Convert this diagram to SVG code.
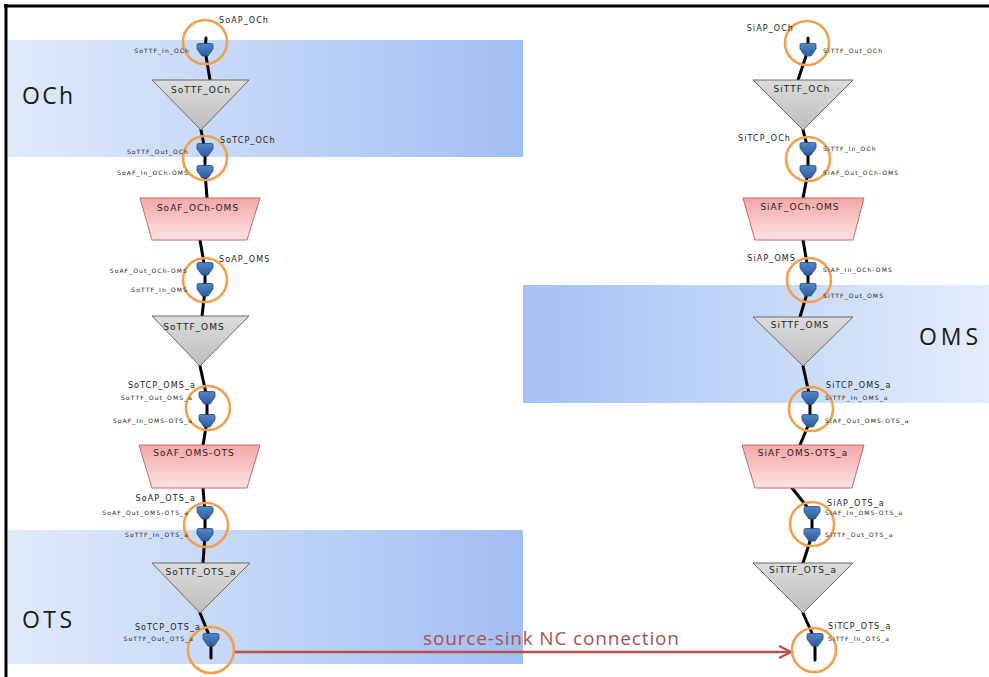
<svg xmlns="http://www.w3.org/2000/svg" xmlns:xlink="http://www.w3.org/1999/xlink" width="989" height="677" viewBox="0 0 989 677">
<defs>
<style>
.lbl{font-family:"DejaVu Sans",sans-serif;font-size:8px;letter-spacing:1.1px;fill:#222}
.tiny{font-family:"DejaVu Sans",sans-serif;font-size:6px;letter-spacing:1.1px;fill:#222}
.fn{font-family:"DejaVu Sans",sans-serif;font-size:9px;letter-spacing:1px;fill:#222;text-anchor:middle}
.big{font-family:"Open Sans","DejaVu Sans",sans-serif;font-size:23px;fill:#1a1a1a}
.end{text-anchor:end}
.ap{fill:none;stroke:#f0a04e;stroke-width:2.6}
.ln{fill:none;stroke:#000;stroke-width:3;stroke-linejoin:round;stroke-linecap:round}
.tri{fill:url(#gTri);stroke:#6a6a6a;stroke-width:1}
.trap{fill:url(#gTrap);stroke:#c46a6a;stroke-width:1}
</style>
<linearGradient id="gBandR" x1="0" y1="0" x2="1" y2="0">
<stop offset="0" stop-color="#e0eafb"/><stop offset="1" stop-color="#a2bff2"/>
</linearGradient>
<linearGradient id="gBandL" x1="0" y1="0" x2="1" y2="0">
<stop offset="0" stop-color="#a4c1f3"/><stop offset="1" stop-color="#e4edfc"/>
</linearGradient>
<linearGradient id="gTri" x1="0" y1="0" x2="0" y2="1">
<stop offset="0" stop-color="#dcdcdc"/><stop offset="1" stop-color="#bdbdbd"/>
</linearGradient>
<linearGradient id="gTrap" x1="0" y1="0" x2="0" y2="1">
<stop offset="0" stop-color="#f5a7a7"/><stop offset="1" stop-color="#fde3e3"/>
</linearGradient>
<linearGradient id="gPort" x1="0" y1="0" x2="0" y2="1">
<stop offset="0" stop-color="#5486c8"/><stop offset="1" stop-color="#2e5c9c"/>
</linearGradient>
<path id="port" d="M-8,-5 Q-8,-6.5 -6.5,-6.5 H6.5 Q8,-6.5 8,-5 V-1 L3,6 H-3 L-8,-1 Z" fill="url(#gPort)" stroke="#24497e" stroke-width="0.8"/>
<marker id="arr" markerUnits="userSpaceOnUse" markerWidth="16" markerHeight="16" refX="13" refY="7" orient="auto" viewBox="0 0 16 14">
<path d="M1,1 L13,7 L1,13" fill="none" stroke="#b5504f" stroke-width="2.4" stroke-linejoin="miter"/>
</marker>
</defs>

<rect width="989" height="677" fill="#fff"/>

<g id="layers">
<rect x="8" y="40" width="515" height="117" fill="url(#gBandR)"/>
<rect x="523" y="285" width="466" height="118" fill="url(#gBandL)"/>
<rect x="8" y="530" width="515" height="134" fill="url(#gBandR)"/>
<text class="big" x="22" y="104" textLength="51" lengthAdjust="spacing">OCh</text>
<text class="big" x="919" y="345" textLength="59" lengthAdjust="spacing">OMS</text>
<text class="big" x="22" y="628" textLength="50" lengthAdjust="spacing">OTS</text>
</g>

<g id="frame" stroke="#000" stroke-width="3">
<line x1="4" y1="6" x2="989" y2="6"/>
<line x1="6" y1="4" x2="6" y2="677"/>
</g>

<g id="connectors">
<polyline class="ln" points="206,38 205,50 210,80"/>
<polyline class="ln" points="201,130 205,150 205,172 207,198"/>
<polyline class="ln" points="200,240 205,269 205,290 202,316"/>
<polyline class="ln" points="200,366 207,398 207,421 203,445"/>
<polyline class="ln" points="203,488 205,513 205,535 203,563"/>
<polyline class="ln" points="200,613 211,640 211,658"/>
<polyline class="ln" points="808,38 808,50 798,80"/>
<polyline class="ln" points="803,130 808,149 808,172 803,198"/>
<polyline class="ln" points="803,240 808,269 808,290 800,317"/>
<polyline class="ln" points="803,366 810,398 810,421 800,445"/>
<polyline class="ln" points="792,488 812,513 812,535 803,563"/>
<polyline class="ln" points="803,613 815,640 815,660"/>
<line x1="234" y1="652" x2="791" y2="652" stroke="#b5504f" stroke-width="2.5" marker-end="url(#arr)"/>
<text x="423" y="645" font-family="'Open Sans','DejaVu Sans',sans-serif" font-size="19" fill="#a65250" textLength="256" lengthAdjust="spacing">source-sink NC connection</text>
</g>

<!-- Source side -->
<g id="SoAP_OCh">
<circle class="ap" cx="205" cy="42" r="22"/>
<use href="#port" x="205" y="50"/>
<text class="lbl" x="219" y="23">SoAP_OCh</text>
<text class="tiny end" x="190" y="53">SoTTF_In_OCh</text>
</g>
<g id="SoTTF_OCh">
<polygon class="tri" points="152,80 249,80 201,130"/>
<text class="fn" x="201" y="93">SoTTF_OCh</text>
</g>
<g id="SoTCP_OCh">
<circle class="ap" cx="205" cy="158" r="22"/>
<use href="#port" x="205" y="150"/>
<use href="#port" x="205" y="172"/>
<text class="lbl" x="220" y="143">SoTCP_OCh</text>
<text class="tiny end" x="189" y="154">SoTTF_Out_OCh</text>
<text class="tiny end" x="189" y="175">SoAF_In_OCh-OMS</text>
</g>
<g id="SoAF_OCh-OMS">
<polygon class="trap" points="140,198 260,198 247,240 152,240"/>
<text class="fn" x="198" y="211">SoAF_OCh-OMS</text>
</g>
<g id="SoAP_OMS">
<circle class="ap" cx="205" cy="280" r="22"/>
<use href="#port" x="205" y="269"/>
<use href="#port" x="205" y="290"/>
<text class="lbl" x="219" y="262">SoAP_OMS</text>
<text class="tiny end" x="188" y="273">SoAF_Out_OCh-OMS</text>
<text class="tiny end" x="188" y="292">SoTTF_In_OMS</text>
</g>
<g id="SoTTF_OMS">
<polygon class="tri" points="152,316 249,316 200,366"/>
<text class="fn" x="194" y="330">SoTTF_OMS</text>
</g>
<g id="SoTCP_OMS_a">
<circle class="ap" cx="208" cy="408" r="22"/>
<use href="#port" x="207" y="398"/>
<use href="#port" x="207" y="421"/>
<text class="lbl end" x="196" y="388">SoTCP_OMS_a</text>
<text class="tiny end" x="193" y="400">SoTTF_Out_OMS_a</text>
<text class="tiny end" x="193" y="423">SoAF_In_OMS-OTS_a</text>
</g>
<g id="SoAF_OMS-OTS">
<polygon class="trap" points="139,445 260,445 247,488 152,488"/>
<text class="fn" x="194" y="456">SoAF_OMS-OTS</text>
</g>
<g id="SoAP_OTS_a">
<circle class="ap" cx="206" cy="525" r="22"/>
<use href="#port" x="205" y="513"/>
<use href="#port" x="205" y="535"/>
<text class="lbl end" x="196" y="501">SoAP_OTS_a</text>
<text class="tiny end" x="189" y="515">SoAF_Out_OMS-OTS_a</text>
<text class="tiny end" x="189" y="537">SoTTF_In_OTS_a</text>
</g>
<g id="SoTTF_OTS_a">
<polygon class="tri" points="152,563 250,563 200,613"/>
<text class="fn" x="201" y="575">SoTTF_OTS_a</text>
</g>
<g id="SoTCP_OTS_a">
<circle class="ap" cx="211" cy="650" r="23"/>
<use href="#port" x="211" y="640"/>
<text class="lbl end" x="201" y="630">SoTCP_OTS_a</text>
<text class="tiny end" x="194" y="641">SoTTF_Out_OTS_a</text>
</g>

<!-- Sink side -->
<g id="SiAP_OCh">
<circle class="ap" cx="807" cy="43" r="22"/>
<use href="#port" x="808" y="50"/>
<text class="lbl end" x="794" y="31">SiAP_OCh</text>
<text class="tiny" x="823" y="53">SiTTF_Out_OCh</text>
</g>
<g id="SiTTF_OCh">
<polygon class="tri" points="753,80 853,80 803,130"/>
<text class="fn" x="802" y="92">SiTTF_OCh</text>
</g>
<g id="SiTCP_OCh">
<circle class="ap" cx="808" cy="159" r="22"/>
<use href="#port" x="808" y="149"/>
<use href="#port" x="808" y="172"/>
<text class="lbl end" x="791" y="141">SiTCP_OCh</text>
<text class="tiny" x="823" y="151">SiTTF_In_OCh</text>
<text class="tiny" x="823" y="175">SiAF_Out_OCh-OMS</text>
</g>
<g id="SiAF_OCh-OMS">
<polygon class="trap" points="743,198 864,198 853,240 755,240"/>
<text class="fn" x="800" y="210">SiAF_OCh-OMS</text>
</g>
<g id="SiAP_OMS">
<circle class="ap" cx="809" cy="280" r="22"/>
<use href="#port" x="808" y="269"/>
<use href="#port" x="808" y="290"/>
<text class="lbl end" x="796" y="261">SiAP_OMS</text>
<text class="tiny" x="823" y="272">SiAF_In_OCh-OMS</text>
<text class="tiny" x="823" y="298">SiTTF_Out_OMS</text>
</g>
<g id="SiTTF_OMS">
<polygon class="tri" points="753,317 853,317 803,366"/>
<text class="fn" x="800" y="328">SiTTF_OMS</text>
</g>
<g id="SiTCP_OMS_a">
<circle class="ap" cx="811" cy="409" r="22"/>
<use href="#port" x="810" y="398"/>
<use href="#port" x="810" y="421"/>
<text class="lbl" x="826" y="388">SiTCP_OMS_a</text>
<text class="tiny" x="825" y="400">SiTTF_In_OMS_a</text>
<text class="tiny" x="825" y="423">SiAF_Out_OMS-OTS_a</text>
</g>
<g id="SiAF_OMS-OTS_a">
<polygon class="trap" points="742,445 864,445 852,488 755,488"/>
<text class="fn" x="803" y="456">SiAF_OMS-OTS_a</text>
</g>
<g id="SiAP_OTS_a">
<circle class="ap" cx="812" cy="524" r="22"/>
<use href="#port" x="812" y="513"/>
<use href="#port" x="812" y="535"/>
<text class="lbl" x="827" y="506">SiAP_OTS_a</text>
<text class="tiny" x="825" y="515">SiAF_In_OMS-OTS_a</text>
<text class="tiny" x="825" y="537">SiTTF_Out_OTS_a</text>
</g>
<g id="SiTTF_OTS_a">
<polygon class="tri" points="753,563 853,563 803,613"/>
<text class="fn" x="803" y="573">SiTTF_OTS_a</text>
</g>
<g id="SiTCP_OTS_a">
<circle class="ap" cx="814" cy="650" r="22"/>
<use href="#port" x="815" y="640"/>
<text class="lbl" x="828" y="629">SiTCP_OTS_a</text>
<text class="tiny" x="828" y="641">SiTTF_In_OTS_a</text>
</g>
</svg>
